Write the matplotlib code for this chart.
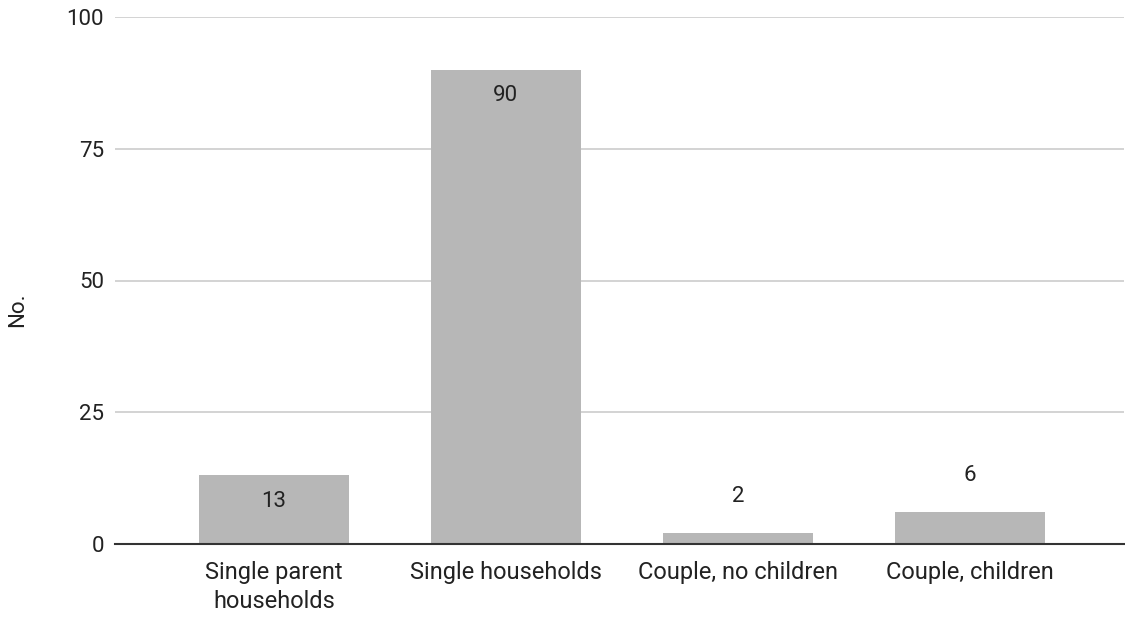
import matplotlib.pyplot as plt

plt.rcParams["font.family"] = ["Roboto", "DejaVu Sans"]

categories = ["Single parent\nhouseholds", "Single households", "Couple, no children", "Couple, children"]
values = [13, 90, 2, 6]
yticks = [0, 25, 50, 75, 100]

fig = plt.figure(figsize=(11.25, 6.17), dpi=100)
ax = fig.add_axes([115 / 1125, 73 / 617, 1009 / 1125, 527 / 617])

x = range(len(categories))
bars = ax.bar(x, values, width=0.647, color="#b7b7b7", zorder=2)

# labels: inside when the bar is tall enough, above otherwise
for b, v in zip(bars, values):
    cx = b.get_x() + b.get_width() / 2
    if v >= 10:
        ax.annotate(str(v), (cx, v), xytext=(0, -26), textcoords="offset pixels",
                    ha="center", va="center", fontsize=16, color="#222222", zorder=3)
    else:
        ax.annotate(str(v), (cx, v), xytext=(0, 37), textcoords="offset pixels",
                    ha="center", va="center", fontsize=16, color="#222222", zorder=3)

ax.set_xlim(-0.685, 3.664)
ax.set_ylim(0, 100)
ax.set_yticks(yticks)
ax.set_xticks(list(x))
ax.set_xticklabels(categories, linespacing=1.35)
ax.tick_params(axis="both", length=0, labelsize=16, colors="#222222")
ax.tick_params(axis="x", pad=12, labelsize=17)
ax.tick_params(axis="y", pad=8)

ax.grid(axis="y", color="#cccccc", linewidth=1.2, zorder=0)
for s in ["top", "right", "left"]:
    ax.spines[s].set_visible(False)
ax.spines["bottom"].set_color("#333333")
ax.spines["bottom"].set_linewidth(1.5)
ax.spines["bottom"].set_zorder(4)

fig.text(18 / 1125, 1 - 310 / 617, "No.", rotation=90, ha="center", va="center",
         fontsize=16, color="#222222")

fig.savefig("out.png", dpi=100)
